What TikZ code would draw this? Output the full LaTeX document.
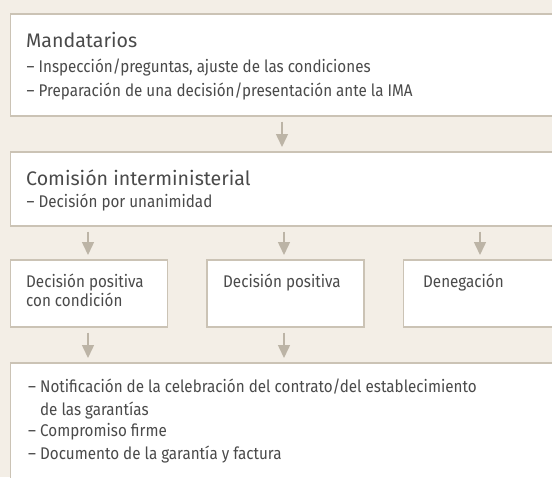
\documentclass[tikz,border=0pt]{standalone}
\usepackage{fontspec}
\setmainfont{Fira Sans}[FakeStretch=0.9]
\newfontfamily\ttlfont{Fira Sans}
\usetikzlibrary{arrows.meta}
\definecolor{bgc}{HTML}{F3EEE6}
\definecolor{bdc}{HTML}{CBC3B5}
\definecolor{arc}{HTML}{BCB4A6}
\definecolor{txc}{HTML}{4A4A4A}
\begin{document}
\begin{tikzpicture}[x=1pt,y=1pt,
  box/.style={draw=bdc, line width=1.5pt, fill=white, inner sep=0pt, anchor=north west},
  ttl/.style={anchor=base west, inner sep=0pt, text=txc, font=\ttlfont\fontsize{19.6}{23}\selectfont},
  itm/.style={anchor=base west, inner sep=0pt, text=txc, font=\fontsize{16.9}{20}\selectfont},
  arr/.style={draw=arc, line width=1.5pt, -{Triangle[width=12pt,length=13pt]}, shorten <=5pt, shorten >=4pt}]
\fill[bgc] (0,0) rectangle (552,-477);
\useasboundingbox (0,0) rectangle (552,-477);
\clip (0,0) rectangle (552,-477);
% boxes
\node[box, minimum width=550.5pt, minimum height=102pt] (b1) at (9.5,-13) {};
\node[box, minimum width=550.5pt, minimum height=74pt] (b2) at (9.5,-151) {};
\node[box, minimum width=157pt, minimum height=67pt] (b3a) at (9.5,-259) {};
\node[box, minimum width=157pt, minimum height=67pt] (b3b) at (206,-259) {};
\node[box, minimum width=157pt, minimum height=67pt] (b3c) at (402.5,-259) {};
\node[box, minimum width=550.5pt, minimum height=140pt] (b4) at (9.5,-362) {};
% texts
\node[ttl] (t1) at (26,-47.3) {Mandatarios};
\node[itm] (i11) at (26.5,-72.5) {– Inspección/preguntas, ajuste de las condiciones};
\node[itm] (i12) at (26.5,-96.5) {– Preparación de una decisión/presentación ante la IMA};
\node[ttl] (t2) at (26,-185) {Comisión interministerial};
\node[itm] (i21) at (26.5,-207.5) {– Decisión por unanimidad};
\node[itm] (ta1) at (26,-287.3) {Decisión positiva};
\node[itm] (ta2) at (26,-306.7) {con condición};
\node[itm] (tb1) at (223,-287.3) {Decisión positiva};
\node[itm] (tc1) at (423,-287.3) {Denegación};
\node[itm] (i41) at (28,-392.7) {– Notificación de la celebración del contrato/del establecimiento};
\node[itm] (i42) at (28,-415) {\phantom{– }de las garantías};
\node[itm] (i43) at (28,-436.7) {– Compromiso firme};
\node[itm] (i44) at (28,-459) {– Documento de la garantía y factura};
% arrow columns
\coordinate (c0) at (282,0);
\coordinate (c1) at (88,0);
\coordinate (c2) at (284,0);
\coordinate (c3) at (480,0);
\draw[arr] (b1.south -| c0) -- (b2.north -| c0);
\draw[arr] (b2.south -| c1) -- (b3a.north -| c1);
\draw[arr] (b2.south -| c2) -- (b3b.north -| c2);
\draw[arr] (b2.south -| c3) -- (b3c.north -| c3);
\draw[arr] (b3a.south -| c1) -- (b4.north -| c1);
\draw[arr] (b3b.south -| c2) -- (b4.north -| c2);
\end{tikzpicture}
\end{document}
